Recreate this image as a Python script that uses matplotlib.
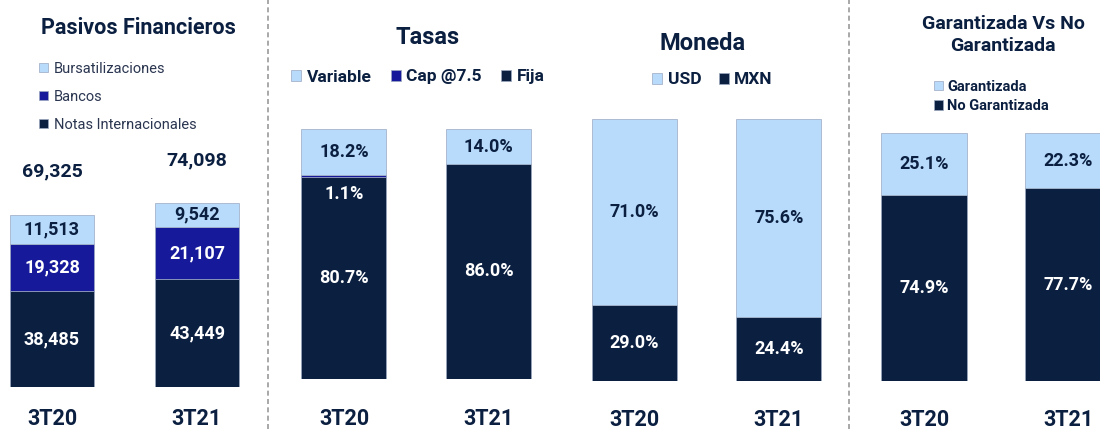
import matplotlib
matplotlib.use("Agg")
import matplotlib.pyplot as plt
from matplotlib.lines import Line2D

# data
periodos = ["3T20", "3T21"]

notas_internacionales = [38485, 43449]
bancos = [19328, 21107]
bursatilizaciones = [11513, 9542]
totales = [69325, 74098]

tasa_fija = [80.7, 86.0]
tasa_cap = [1.1, 0.0]
tasa_variable = [18.2, 14.0]

moneda_mxn = [29.0, 24.4]
moneda_usd = [71.0, 75.6]

no_garantizada = [74.9, 77.7]
garantizada = [25.1, 22.3]

# style
NAVY = "#0b1f40"
BLUE = "#15199a"
LIGHT = "#b8dbfb"
EDGE = "#9aa8c0"

plt.rcParams["font.family"] = ["Roboto", "DejaVu Sans"]

W, H = 1100, 429
fig = plt.figure(figsize=(W / 100, H / 100), dpi=100)


def px_axes(left, right, bottom, c0, c1, px_per_unit):
    # axes covering [left, right] px horizontally, from bottom px to top of figure
    ax = fig.add_axes([left / W, (H - bottom) / H, (right - left) / W, bottom / H])
    u = c1 - c0
    ax.set_xlim((left - c0) / u, (right - c0) / u)
    ax.set_ylim(0, bottom / px_per_unit)
    for s in ax.spines.values():
        s.set_visible(False)
    ax.set_yticks([])
    ax.tick_params(axis="x", length=0)
    return ax, u


def fig_xy(x, y):
    return x / W, 1 - y / H


def ticks(ax, bottom, center_px):
    pad = (center_px - bottom - 8) * 0.72
    ax.set_xticks(range(len(periodos)), periodos, fontsize=15.5, fontweight="bold",
                  color=NAVY)
    ax.tick_params(axis="x", pad=pad)


def stack(ax, series, colors, width):
    x = range(len(periodos))
    bottom = [0] * len(periodos)
    bars = []
    for vals, c in zip(series, colors):
        b = ax.bar(x, vals, width, bottom=bottom, color=c, edgecolor=EDGE, linewidth=0.5)
        bars.append(b)
        bottom = [a + v for a, v in zip(bottom, vals)]
    return bars


def seg_labels(ax, series, colors_txt, fmt, skip=()):
    bottom = [0] * len(periodos)
    for k, (vals, tc) in enumerate(zip(series, colors_txt)):
        for i, v in enumerate(vals):
            if (k, i) not in skip and v > 0:
                ax.text(i, bottom[i] + v / 2, fmt(v), ha="center", va="center",
                        color=tc, fontsize=13, fontweight="bold")
        bottom = [a + v for a, v in zip(bottom, vals)]


pct = lambda v: f"{v:.1f}%"

# Panel 1: Pasivos Financieros
ax1, u1 = px_axes(0, 268, 387, 52, 197, 2.482 / 1000)
b1 = stack(ax1, [notas_internacionales, bancos, bursatilizaciones], [NAVY, BLUE, LIGHT], 84 / u1)
seg_labels(ax1, [notas_internacionales, bancos, bursatilizaciones], ["white", "white", NAVY],
           lambda v: f"{v:,}")
for i, t in enumerate(totales):
    ax1.annotate(f"{t:,}", (i, t), xytext=(0, 31), textcoords="offset points",
                 ha="center", va="center", fontsize=14, fontweight="bold", color=NAVY)
ticks(ax1, 387, 416)
ax1.legend([b1[2], b1[1], b1[0]], ["Bursatilizaciones", "Bancos", "Notas Internacionales"],
           loc="upper left", bbox_to_anchor=fig_xy(39, 62), bbox_transform=fig.transFigure,
           frameon=False, fontsize=10.5, labelcolor="#2a3550", handlelength=0.6,
           handleheight=0.6, handletextpad=0.4, labelspacing=0.95, borderpad=0,
           borderaxespad=0)
fig.text(*fig_xy(138, 28), "Pasivos Financieros", ha="center", va="center",
         fontsize=15.5, fontweight="bold", color=NAVY)

# Panel 2: Tasas
ax2, u2 = px_axes(270, 560, 379, 344, 488.5, 2.5)
b2 = stack(ax2, [tasa_fija, tasa_cap, tasa_variable], [NAVY, BLUE, LIGHT], 85 / u2)
seg_labels(ax2, [tasa_fija, tasa_cap, tasa_variable], ["white", "white", NAVY], pct,
           skip={(1, 0)})
for i, v in enumerate(tasa_cap):
    if v > 0:
        ax2.annotate(pct(v), (i, tasa_fija[i]), xytext=(0, -12), textcoords="offset points",
                     ha="center", va="center", fontsize=13, fontweight="bold", color="white")
ticks(ax2, 379, 416)
ax2.legend([b2[2], b2[1], b2[0]], ["Variable", "Cap @7.5", "Fija"], ncol=3,
           loc="center left", bbox_to_anchor=fig_xy(291, 77), bbox_transform=fig.transFigure,
           frameon=False, labelcolor=NAVY, handlelength=0.6, handleheight=0.6,
           handletextpad=0.3, columnspacing=1.1, borderpad=0, borderaxespad=0,
           prop={"weight": "bold", "size": 12.5})
fig.text(*fig_xy(428, 38), "Tasas", ha="center", va="center",
         fontsize=17, fontweight="bold", color=NAVY)

# Panel 3: Moneda
ax3, u3 = px_axes(560, 849, 381, 634.5, 779, 2.62)
b3 = stack(ax3, [moneda_mxn, moneda_usd], [NAVY, LIGHT], 85 / u3)
seg_labels(ax3, [moneda_mxn, moneda_usd], ["white", NAVY], pct)
ticks(ax3, 381, 417)
ax3.legend([b3[1], b3[0]], ["USD", "MXN"], ncol=2,
           loc="center left", bbox_to_anchor=fig_xy(652, 80), bbox_transform=fig.transFigure,
           frameon=False, labelcolor=NAVY, handlelength=0.6, handleheight=0.6,
           handletextpad=0.3, columnspacing=1.0, borderpad=0, borderaxespad=0,
           prop={"weight": "bold", "size": 12.5})
fig.text(*fig_xy(703, 43), "Moneda", ha="center", va="center",
         fontsize=17, fontweight="bold", color=NAVY)

# Panel 4: Garantizada vs No Garantizada
ax4, u4 = px_axes(851, 1100, 381, 924, 1068, 2.48)
b4 = stack(ax4, [no_garantizada, garantizada], [NAVY, LIGHT], 86 / u4)
seg_labels(ax4, [no_garantizada, garantizada], ["white", NAVY], pct)
ticks(ax4, 381, 417)
ax4.legend([b4[1], b4[0]], ["Garantizada", "No Garantizada"],
           loc="upper left", bbox_to_anchor=fig_xy(934, 80), bbox_transform=fig.transFigure,
           frameon=False, labelcolor=NAVY, handlelength=0.6, handleheight=0.6,
           handletextpad=0.3, labelspacing=0.35, borderpad=0, borderaxespad=0,
           prop={"weight": "bold", "size": 10.5})
fig.text(*fig_xy(1003, 35), "Garantizada Vs No\nGarantizada", ha="center", va="center",
         fontsize=14, fontweight="bold", color=NAVY, linespacing=1.35)

# separators
for xs in (268, 849):
    fig.add_artist(Line2D([xs / W] * 2, [0, 1], transform=fig.transFigure,
                          color="#9a9a9a", lw=1.2, ls=(0, (3, 2))))

fig.savefig("out.png", dpi=100)
